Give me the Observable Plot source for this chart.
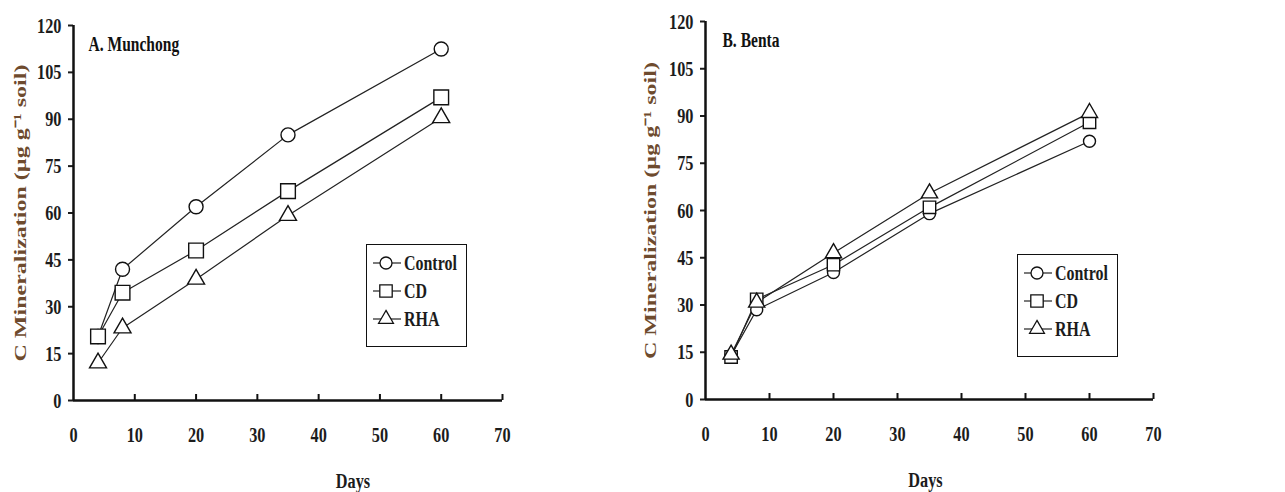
<!DOCTYPE html>
<html>
<head>
<meta charset="utf-8">
<script src="https://cdn.jsdelivr.net/npm/d3@7"></script>
<script src="https://cdn.jsdelivr.net/npm/@observablehq/plot@0.6"></script>
<style>
  html, body { margin: 0; padding: 0; background: #fff; }
  #root { position: relative; width: 1285px; height: 492px; overflow: hidden; font-family: "Liberation Serif", "Times New Roman", serif; }
  .panel { position: absolute; top: 0; }
  .legend { position: absolute; border: 1.5px solid #111; background: #fff; box-sizing: border-box; }
</style>
</head>
<body>
<div id="root"></div>
<script>
// ---------- data ----------
const days = [4, 8, 20, 35, 60];
const series = ["Control", "CD", "RHA"];
const symbols = ["circle", "square", "triangle"];

const munchongControl = [20.5, 42, 62, 85, 112.5];
const munchongCD      = [20.5, 34.5, 48, 67, 97];
const munchongRHA     = [12, 23.2, 38.8, 59.2, 90.5];

const bentaControl = [14, 28.5, 40.3, 59, 82];
const bentaCD      = [13.5, 31.8, 42.8, 61, 88];
const bentaRHA     = [14.3, 30.8, 46.5, 65.5, 91];

const xTicks = [0, 10, 20, 30, 40, 50, 60, 70];
const yTicks = [0, 15, 30, 45, 60, 75, 90, 105, 120];

const yTitle = "C Mineralization (µg g⁻¹ soil)";
const xTitle = "Days";
const titleA = "A. Munchong";
const titleB = "B. Benta";

function rows(vals) {
  const out = [];
  vals.forEach((arr, si) => arr.forEach((v, i) => out.push({series: series[si], day: days[i], value: v})));
  return out;
}
const dataA = rows([munchongControl, munchongCD, munchongRHA]);
const dataB = rows([bentaControl, bentaCD, bentaRHA]);

const FONT = "Liberation Serif, Times New Roman, serif";
const TXT = "#1c1c1c";
const BROWN = "#6e4b2e";
const SQUEEZE = 0.74;

function panel({data, title, width, height, ml, mr, mt, mb, rSizes, titleDx, titleDy, daysDx, yTitleDx}) {
  const frameH = height - mt - mb;
  const dotMarks = series.map((s, i) =>
    Plot.dot(data.filter(d => d.series === s), {x: "day", y: "value", symbol: () => s, r: rSizes[i], fill: "#fff", stroke: "#111", strokeWidth: 1.4}));
  return Plot.plot({
    width, height,
    marginLeft: ml, marginRight: mr, marginTop: mt, marginBottom: mb,
    style: {fontFamily: FONT, fontWeight: "bold", color: TXT, background: "transparent", overflow: "visible"},
    x: {domain: [0, 70]},
    y: {domain: [0, 120]},
    symbol: {domain: series, range: symbols},
    marks: [
      Plot.axisY({ticks: yTicks, tickSize: 5, tickPadding: 7, fontSize: 22, fontWeight: "bold", strokeWidth: 2, label: null, tickFormat: d => d}),
      Plot.axisX({ticks: xTicks, tickSize: 0, tickPadding: 26, fontSize: 22, fontWeight: "bold", label: null, tickFormat: d => d}),
      Plot.ruleX(xTicks.filter(d => d > 0), {insetTop: frameH - 6, stroke: "#111", strokeWidth: 2}),
      Plot.ruleY([0], {stroke: "#111", strokeWidth: 2.5}),
      Plot.ruleX([0], {stroke: "#111", strokeWidth: 2.5}),
      Plot.line(data, {x: "day", y: "value", z: "series", stroke: "#222", strokeWidth: 1.2}),
      ...dotMarks,
      Plot.text([title], {frameAnchor: "top-left", textAnchor: "start", lineAnchor: "top", dx: titleDx, dy: titleDy, fontSize: 21, fontWeight: "bold", fill: "#111"}),
      Plot.text([xTitle], {frameAnchor: "bottom", lineAnchor: "middle", dx: daysDx, dy: 80, fontSize: 22, fontWeight: "bold", fill: TXT}),
      Plot.text([yTitle], {frameAnchor: "left", rotate: -90, lineAnchor: "middle", textAnchor: "middle", dx: yTitleDx, fontSize: 24, fontWeight: "bold", fill: BROWN})
    ]
  });
}

// squeeze every text horizontally (the reference typography is condensed)
function squeeze(svg, s) {
  svg.querySelectorAll("text").forEach(t => {
    let tr = t.getAttribute("transform");
    if (!tr) {
      const x = +(t.getAttribute("x") || 0), y = +(t.getAttribute("y") || 0);
      t.removeAttribute("x"); t.removeAttribute("y");
      tr = `translate(${x},${y})`;
    }
    const rotated = /rotate\(\s*-?90/.test(tr);
    t.setAttribute("transform", tr + (rotated ? ` scale(1,${s})` : ` scale(${s},1)`));
  });
}

function legend({left, top, rSizes}) {
  const div = document.createElement("div");
  div.className = "legend";
  div.style.left = left + "px";
  div.style.top = top + "px";
  div.style.width = "101px";
  div.style.height = "103px";
  const svg = d3.create("svg").attr("width", 98).attr("height", 100)
    .style("position", "absolute").style("left", "0px").style("top", "0px");
  const symTypes = [d3.symbolCircle, d3.symbolSquare, d3.symbolTriangle];
  series.forEach((s, i) => {
    const cy = 18 + i * 28;
    const g = svg.append("g").attr("transform", `translate(0,${cy})`);
    g.append("line").attr("x1", 6).attr("x2", 34).attr("y1", 0).attr("y2", 0).attr("stroke", "#222").attr("stroke-width", 1.2);
    g.append("path").attr("d", d3.symbol(symTypes[i], Math.PI * rSizes[i] * rSizes[i])())
      .attr("transform", "translate(19,0)").attr("fill", "#fff").attr("stroke", "#111").attr("stroke-width", 1.3);
    g.append("text").attr("transform", `translate(37,0) scale(${SQUEEZE + 0.02},1)`).attr("dy", "0.35em")
      .attr("font-family", FONT).attr("font-weight", "bold").attr("font-size", 21).attr("fill", TXT).text(s);
  });
  div.appendChild(svg.node());
  return div;
}

const root = document.getElementById("root");

const a = panel({data: dataA, title: titleA, width: 640, height: 492, ml: 73, mr: 138, mt: 25, mb: 92,
  rSizes: [7, 8.3, 6.3], titleDx: 15, titleDy: 11, daysDx: 65, yTitleDx: -53});
squeeze(a, SQUEEZE);
a.classList.add("panel"); a.style.left = "0px";
root.appendChild(a);

const b = panel({data: dataB, title: titleB, width: 645, height: 492, ml: 65, mr: 132, mt: 21, mb: 93,
  rSizes: [6, 7, 6], titleDx: 17, titleDy: 11, daysDx: -4, yTitleDx: -55});
squeeze(b, SQUEEZE);
b.classList.add("panel"); b.style.left = "640px";
root.appendChild(b);

root.appendChild(legend({left: 366, top: 244, rSizes: [6, 7, 5.5]}));
root.appendChild(legend({left: 1017, top: 254, rSizes: [6, 7, 5.5]}));
</script>
</body>
</html>
